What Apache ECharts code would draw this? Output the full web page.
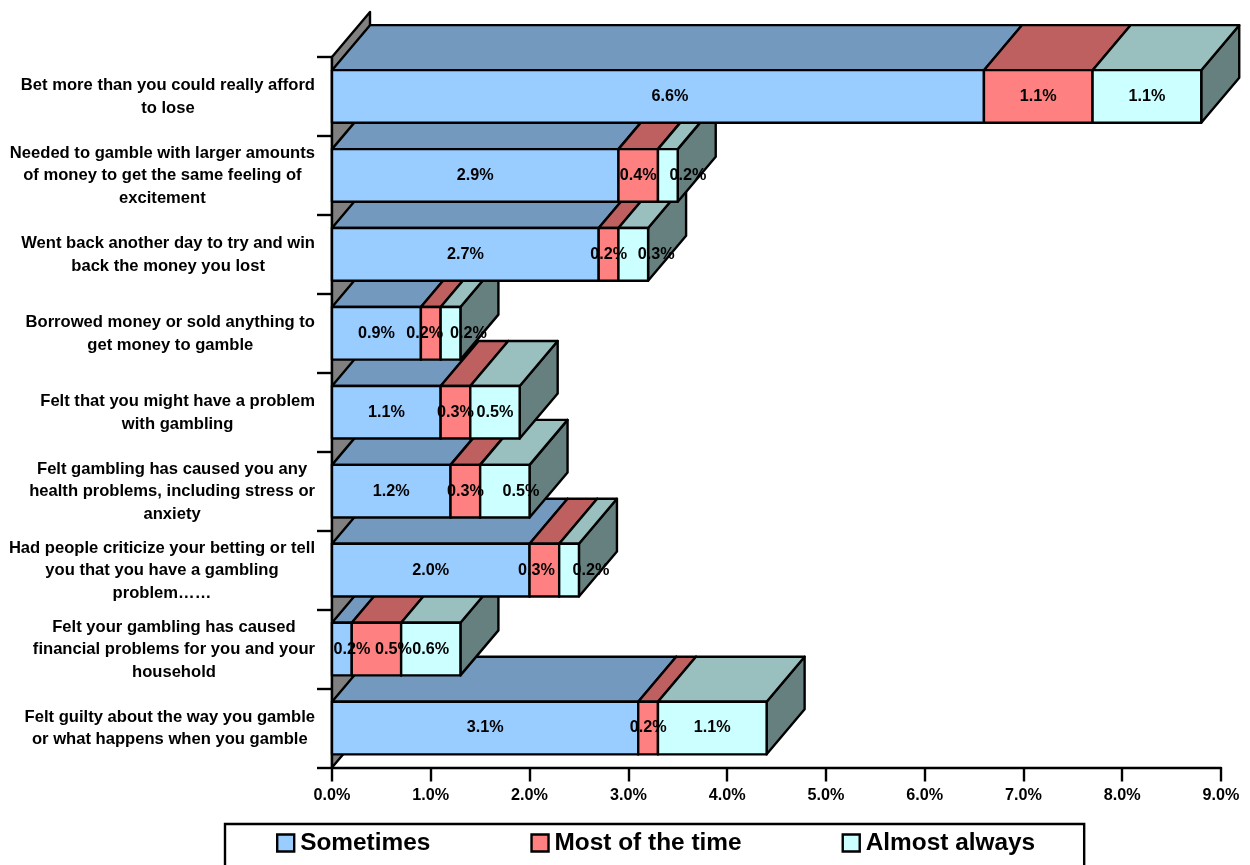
<!DOCTYPE html>
<html>
<head>
<meta charset="utf-8">
<title>Gambling problem indicators</title>
<style>html,body{margin:0;padding:0;background:#fff}#chart{width:1250px;height:865px}</style>
<script src="https://cdn.jsdelivr.net/npm/echarts@6/dist/echarts.min.js"></script>
</head>
<body>
<div id="chart"></div>
<script>
const categories = [
  'Bet more than you could really afford\nto lose',
  'Needed to gamble with larger amounts\nof money to get the same feeling of\nexcitement',
  'Went back another day to try and win\nback the money you lost',
  'Borrowed money or sold anything to\nget money to gamble',
  'Felt that you might have a problem\nwith gambling',
  'Felt gambling has caused you any\nhealth problems, including stress or\nanxiety',
  'Had people criticize your betting or tell\nyou that you have a gambling\nproblem\u2026\u2026',
  'Felt your gambling has caused\nfinancial problems for you and your\nhousehold',
  'Felt guilty about the way you gamble\nor what happens when you gamble'
];
const sometimes    = [6.6, 2.9, 2.7, 0.9, 1.1, 1.2, 2.0, 0.2, 3.1];
const mostOfTheTime = [1.1, 0.4, 0.2, 0.2, 0.3, 0.3, 0.3, 0.5, 0.2];
const almostAlways = [1.1, 0.2, 0.3, 0.2, 0.5, 0.5, 0.2, 0.6, 1.1];
const xTicks = { min: 0, max: 9, interval: 1 };

// Horizontal shifts of the value labels that sit off-centre on their segments.
const sometimesLabelShift = [12, 0, 0, 0, 0, 0, 0, 10, 0];
const mostLabelShift      = [0, 0, 0, -6, 0, 0, -8, 17, 0];
const almostLabelShift    = [0, 20, 23, 18, 0, 16, 22, 0, 0];

// Oblique projection of the bars and the proportion of each band they fill.
const DEPTH_X = 38, DEPTH_Y = 45, BAR_RATIO = 2 / 3;
const FONT = '"Liberation Sans", Arial, sans-serif';
const INK = '#000';
const VALUE_SIZE = 16.2;
const CATEGORY_SIZE = 16.6;

function face(points, fill, z2) {
  return {
    type: 'polygon', z2,
    shape: { points },
    style: { fill, stroke: INK, lineWidth: 2.4, lineJoin: 'round' }
  };
}

function barRenderer(order, colors, shifts) {
  return function (params, api) {
    const from = api.value(0), to = api.value(1), cat = api.value(2);
    const left = api.coord([from, cat]);
    const right = api.coord([to, cat]);
    const h = api.size([0, 1])[1] * BAR_RATIO;
    const x0 = left[0], x1 = right[0];
    const y0 = left[1] - h / 2, y1 = left[1] + h / 2;
    // Upper categories overlap the ones below, and later segments the earlier.
    const z = (categories.length - cat) * 10 + order;
    return {
      type: 'group',
      children: [
        face([[x1, y0], [x1 + DEPTH_X, y0 - DEPTH_Y], [x1 + DEPTH_X, y1 - DEPTH_Y], [x1, y1]], colors.side, z),
        face([[x0, y0], [x0 + DEPTH_X, y0 - DEPTH_Y], [x1 + DEPTH_X, y0 - DEPTH_Y], [x1, y0]], colors.top, z),
        face([[x0, y0], [x1, y0], [x1, y1], [x0, y1]], colors.front, z),
        {
          type: 'text', z2: 1000,
          style: {
            x: (x0 + x1) / 2 + shifts[cat], y: left[1],
            text: (to - from).toFixed(1) + '%',
            font: 'bold ' + VALUE_SIZE + 'px ' + FONT,
            fill: INK, textAlign: 'center', textVerticalAlign: 'middle'
          }
        }
      ]
    };
  };
}

// Running totals give each segment its start and end along the value axis.
function stackedRows(values, ...below) {
  return values.map((v, i) => {
    const start = below.reduce((sum, arr) => sum + arr[i], 0);
    return [start, start + v, i];
  });
}

function barSeries(name, rows, order, colors, shifts) {
  return {
    type: 'custom', name,
    coordinateSystem: 'cartesian2d',
    encode: { x: [0, 1], y: 2 },
    data: rows,
    itemStyle: { color: colors.front },
    renderItem: barRenderer(order, colors, shifts)
  };
}

const chart = echarts.init(document.getElementById('chart'), null, { renderer: 'canvas' });
chart.setOption({
  animation: false,
  backgroundColor: '#fff',
  grid: { left: 332, right: 29, top: 57, bottom: 97.5, containLabel: false },
  xAxis: {
    type: 'value',
    min: xTicks.min, max: xTicks.max, interval: xTicks.interval,
    splitLine: { show: false },
    axisLine: { show: true, lineStyle: { color: INK, width: 2.4 } },
    axisTick: { show: true, length: 14, lineStyle: { color: INK, width: 2.4 } },
    axisLabel: {
      margin: 20, color: INK, fontFamily: FONT, fontWeight: 'bold', fontSize: VALUE_SIZE,
      formatter: v => v.toFixed(1) + '%'
    }
  },
  yAxis: {
    type: 'category',
    inverse: true,
    data: categories,
    axisLine: { show: true, lineStyle: { color: INK, width: 2.4 } },
    axisTick: { show: true, length: 15, lineStyle: { color: INK, width: 2.4 } },
    axisLabel: {
      margin: 17, interval: 0, align: 'right', padding: [1, 0, 0, 0],
      formatter: v => v.split('\n').map(l => '{c|' + l + '}').join('\n'),
      rich: {
        c: {
          align: 'center', color: INK, fontFamily: FONT,
          fontWeight: 'bold', fontSize: CATEGORY_SIZE, lineHeight: 22.5
        }
      }
    }
  },
  legend: {
    data: ['Sometimes', 'Most of the time', 'Almost always'],
    left: 225, top: 824,
    orient: 'horizontal',
    padding: [7, 49, 20, 51],
    itemGap: 100, itemWidth: 17, itemHeight: 17,
    icon: 'rect',
    borderColor: INK, borderWidth: 2.4,
    backgroundColor: '#fff',
    itemStyle: { borderColor: INK, borderWidth: 2.4 },
    textStyle: {
      color: INK, fontFamily: FONT, fontWeight: 'bold', fontSize: 24.4,
      padding: [2, 0, 0, 1]
    }
  },
  series: [
    {
      // Grey side wall behind the bars, running the full height of the axis.
      type: 'custom', name: 'wall',
      coordinateSystem: 'cartesian2d',
      encode: { x: 0, y: 1 },
      data: [[0, 0]],
      silent: true,
      renderItem: (params) => {
        const c = params.coordSys;
        return face([
          [c.x, c.y], [c.x + DEPTH_X, c.y - DEPTH_Y],
          [c.x + DEPTH_X, c.y + c.height - DEPTH_Y], [c.x, c.y + c.height]
        ], '#808080', 1);
      }
    },
    barSeries('Sometimes', stackedRows(sometimes), 0,
      { front: '#99CCFF', top: '#7399BF', side: '#4D6680' }, sometimesLabelShift),
    barSeries('Most of the time', stackedRows(mostOfTheTime, sometimes), 1,
      { front: '#FF8080', top: '#BF6060', side: '#804040' }, mostLabelShift),
    barSeries('Almost always', stackedRows(almostAlways, sometimes, mostOfTheTime), 2,
      { front: '#CCFFFF', top: '#99BFBF', side: '#668080' }, almostLabelShift)
  ]
});
</script>
</body>
</html>
